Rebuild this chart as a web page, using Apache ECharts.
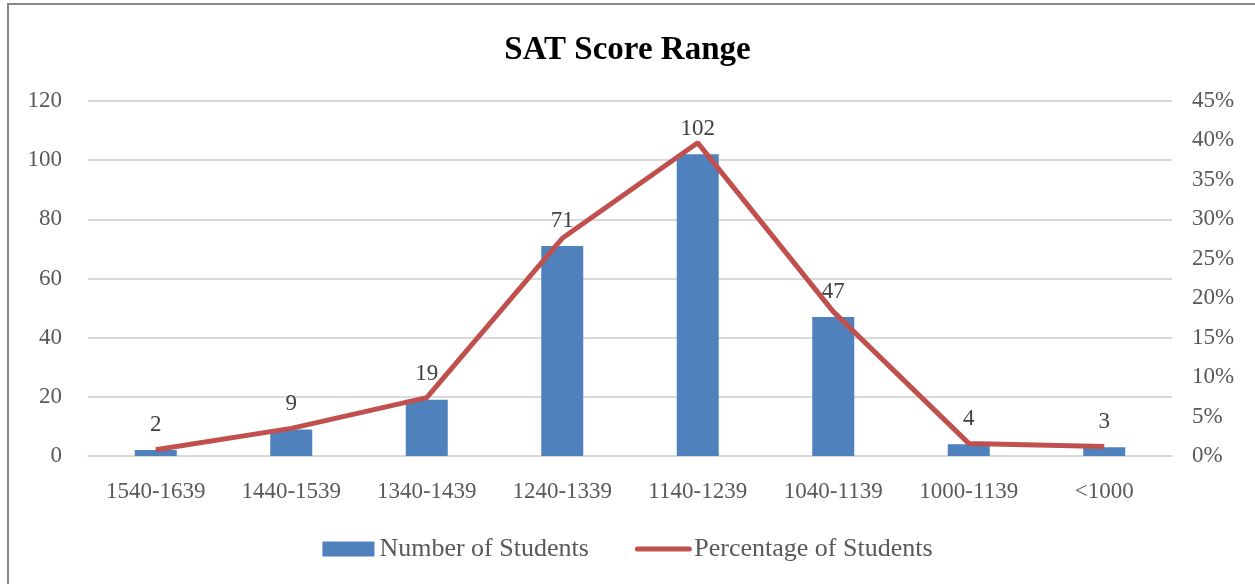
<!DOCTYPE html>
<html>
<head>
<meta charset="utf-8">
<script src="https://cdn.jsdelivr.net/npm/echarts@6/dist/echarts.min.js"></script>
<style>
  html, body { margin: 0; padding: 0; background: #fff; }
  #chart { width: 1255px; height: 584px; }
</style>
</head>
<body>
<div id="chart"></div>
<script>
// score bands
const categories = ['1540-1639', '1440-1539', '1340-1439', '1240-1339', '1140-1239', '1040-1139', '1000-1139', '<1000']
// number of students per band
const students = [2, 9, 19, 71, 102, 47, 4, 3]
// percentage of students
const percentages = [0.8, 3.5, 7.4, 27.6, 39.7, 18.3, 1.6, 1.2]

const font = 'Liberation Serif'

const myEcharts = echarts.init(document.getElementById('chart'))
const option = {
  animation: false,
  textStyle: { fontFamily: font },
  title: {
    text: 'SAT Score Range',
    left: 'center',
    top: 29,
    textStyle: { fontFamily: font, fontSize: 33, fontWeight: 'bold', color: '#000' }
  },
  // outer frame of the chart
  graphic: [{
    type: 'rect',
    shape: { x: 8, y: 4, width: 1300, height: 700 },
    style: { fill: 'none', stroke: '#888', lineWidth: 2 }
  }],
  legend: {
    top: 531,
    left: 'center',
    itemWidth: 52,
    itemHeight: 15,
    itemGap: 46,
    textStyle: { fontFamily: font, fontSize: 26, color: '#595959' },
    data: [
      { name: 'Number of Students', icon: 'rect' },
      {
        name: 'Percentage of Students',
        // hide the legend dot, keep only the line
        itemStyle: { color: 'rgba(0,0,0,0)', borderColor: 'rgba(0,0,0,0)', borderWidth: 0 },
        lineStyle: { color: '#C0504D', width: 5, cap: 'round' }
      }
    ]
  },
  grid: { left: 88, right: 83, top: 101, bottom: 128 },
  xAxis: {
    type: 'category',
    data: categories,
    axisLine: { lineStyle: { color: '#d9d9d9', width: 2 } },
    axisTick: { show: false },
    axisLabel: { fontFamily: font, fontSize: 23, color: '#595959', margin: 24 }
  },
  yAxis: [
    {
      type: 'value',
      min: 0,
      max: 120,
      interval: 20,
      axisLine: { show: false },
      axisTick: { show: false },
      splitLine: { lineStyle: { color: '#d9d9d9', width: 2 } },
      axisLabel: { fontFamily: font, fontSize: 23, color: '#595959', margin: 26 }
    },
    {
      type: 'value',
      min: 0,
      max: 45,
      interval: 5,
      axisLine: { show: false },
      axisTick: { show: false },
      splitLine: { show: false },
      axisLabel: { fontFamily: font, fontSize: 23, color: '#595959', margin: 20, formatter: '{value}%' }
    }
  ],
  series: [
    {
      name: 'Number of Students',
      type: 'bar',
      data: students,
      barWidth: 42,
      itemStyle: { color: '#4F81BD' },
      label: {
        show: true,
        position: 'top',
        distance: 14,
        fontFamily: font,
        fontSize: 23,
        color: '#404040'
      }
    },
    {
      name: 'Percentage of Students',
      type: 'line',
      yAxisIndex: 1,
      data: percentages,
      symbol: 'none',
      lineStyle: { color: '#C0504D', width: 5 },
      itemStyle: { color: '#C0504D' },
      z: 3
    }
  ]
}
myEcharts.setOption(option)
</script>
</body>
</html>
